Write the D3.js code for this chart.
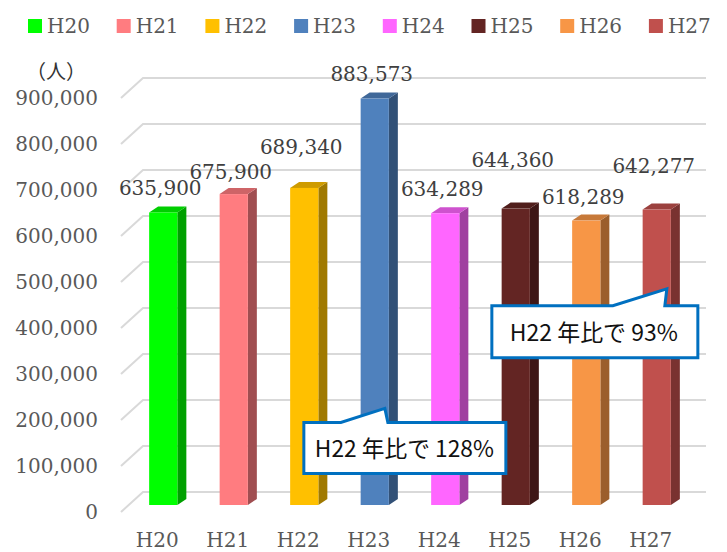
<!DOCTYPE html>
<html>
<head>
<meta charset="utf-8">
<script src="https://cdn.jsdelivr.net/npm/d3@7"></script>
<style>
  body { margin: 0; background: #fff; }
  svg { display: block; }
</style>
</head>
<body>
<svg id="chart" width="727" height="552"></svg>
<script>
const years = ["H20", "H21", "H22", "H23", "H24", "H25", "H26", "H27"];
const visitors = [635900, 675900, 689340, 883573, 634289, 644360, 618289, 642277];
const barColors = ["#00ff00", "#ff7c80", "#ffc000", "#4f81bd", "#ff66ff", "#632523", "#f79646", "#c0504d"];
const yTicks = [0, 100000, 200000, 300000, 400000, 500000, 600000, 700000, 800000, 900000];
const callouts = [
  { text: "H22 年比で 128%", year: "H23", value: 210000 },
  { text: "H22 年比で 93%", year: "H27", value: 470000 }
];
// how far each value label sits above its bar (labels were dragged by hand in the original)
const labelLift = [24, 22, 41, 25, 24, 49, 24, 44];

const svg = d3.select("#chart");
const serif = "'DejaVu Serif', 'Liberation Serif', serif";
const grey = "#595959";

// front plane of the 3D floor
const y = d3.scaleLinear().domain([0, 900000]).range([512, 98]);
const x = d3.scaleBand().domain(years).range([122, 686]).padding(0);

const wall = { dx: 22, dy: -20 };   // front -> back wall
const face = { dx: 6, dy: -7 };     // front -> bar front face
const depth = { dx: 9, dy: -6 };    // bar front -> bar back
const barW = x.bandwidth() * 0.4;

// gridlines: short diagonal on the left side wall, then across the back wall
const grid = svg.append("g");
yTicks.forEach(t => {
  const fy = y(t);
  grid.append("polyline")
      .attr("points", [[121, fy], [121 + wall.dx, fy + wall.dy], [706, fy + wall.dy]].join(" "))
      .attr("fill", "none")
      .attr("stroke", "#d9d9d9")
      .attr("stroke-width", 2);
});

svg.append("g")
   .selectAll("text")
   .data(yTicks)
   .enter()
   .append("text")
   .attr("x", 98)
   .attr("y", d => y(d))
   .attr("dy", "0.35em")
   .attr("text-anchor", "end")
   .attr("font-family", serif)
   .attr("font-size", 20)
   .attr("fill", grey)
   .text(d => d3.format(",")(d));

svg.append("text")
   .attr("x", 56)
   .attr("y", 72)
   .attr("dy", "0.35em")
   .attr("text-anchor", "middle")
   .attr("font-family", "'Noto Sans CJK JP', serif")
   .attr("font-size", 20)
   .attr("fill", "#333")
   .text("（人）");

// 3D columns
const bars = svg.append("g")
   .selectAll("g")
   .data(years.map((yr, i) => ({ yr, v: visitors[i], c: barColors[i], i })))
   .enter()
   .append("g");

bars.each(function(d) {
  const g = d3.select(this);
  const x0 = x(d.yr) + x.bandwidth() / 2 - barW / 2 + face.dx;
  const x1 = x0 + barW;
  const yt = y(d.v) + face.dy;
  const yb = y(0) + face.dy;
  const base = d3.color(d.c);
  g.append("polygon")
   .attr("points", [[x1, yt], [x1 + depth.dx, yt + depth.dy], [x1 + depth.dx, yb + depth.dy], [x1, yb]].join(" "))
   .attr("fill", base.darker(1.3));
  g.append("polygon")
   .attr("points", [[x0, yt], [x1, yt], [x1 + depth.dx, yt + depth.dy], [x0 + depth.dx, yt + depth.dy]].join(" "))
   .attr("fill", base.darker(0.6));
  g.append("rect")
   .attr("x", x0)
   .attr("y", yt)
   .attr("width", barW)
   .attr("height", yb - yt)
   .attr("fill", d.c);
  g.append("text")
   .attr("x", x0 + barW / 2 - 3)
   .attr("y", yt - labelLift[d.i])
   .attr("dy", "0.35em")
   .attr("text-anchor", "middle")
   .attr("font-family", serif)
   .attr("font-size", 20)
   .attr("fill", "#404040")
   .text(d3.format(",")(d.v));
});

// category labels
svg.append("g")
   .selectAll("text")
   .data(years)
   .enter()
   .append("text")
   .attr("x", d => x(d) + x.bandwidth() / 2)
   .attr("y", 540)
   .attr("dy", "0.35em")
   .attr("text-anchor", "middle")
   .attr("font-family", serif)
   .attr("font-size", 20)
   .attr("fill", grey)
   .text(d => d);

// legend
const legend = svg.append("g")
   .selectAll("g")
   .data(years)
   .enter()
   .append("g")
   .attr("transform", (d, i) => "translate(" + (28 + i * 88.7) + ",19)");
legend.append("rect")
   .attr("width", 14)
   .attr("height", 14)
   .attr("fill", (d, i) => barColors[i]);
legend.append("text")
   .attr("x", 19)
   .attr("y", 7)
   .attr("dy", "0.35em")
   .attr("font-family", serif)
   .attr("font-size", 20)
   .attr("fill", grey)
   .text(d => d);

// callouts
const boxes = [
  { w: 202, h: 51, baseL: -44, baseR: 3, gap: 14, padX: 11, textW: 179, shift: 81 },
  { w: 206, h: 52, baseL: -54, baseR: -2, gap: 17, padX: 18, textW: 168, shift: 175 }
];
callouts.forEach((c, k) => {
  const b = boxes[k];
  const tipX = x(c.year) + x.bandwidth() / 2 - barW / 2 + face.dx + barW - 4;
  const tipY = y(c.value) + face.dy;
  const top = tipY + b.gap;
  const left = tipX - b.shift;
  const right = left + b.w;
  const pts = [[left, top], [tipX + b.baseL, top], [tipX, tipY], [tipX + b.baseR, top],
               [right, top], [right, top + b.h], [left, top + b.h]];
  svg.append("polygon")
     .attr("points", pts.join(" "))
     .attr("fill", "#fff")
     .attr("stroke", "#0070c0")
     .attr("stroke-width", 3)
     .attr("stroke-linejoin", "miter");
  svg.append("text")
     .attr("x", left + b.padX)
     .attr("y", top + b.h / 2 + 1)
     .attr("dy", "0.35em")
     .attr("font-family", "'Noto Sans CJK JP', sans-serif")
     .attr("font-size", 23)
     .attr("textLength", b.textW)
     .attr("lengthAdjust", "spacingAndGlyphs")
     .attr("fill", "#111")
     .text(c.text);
});
</script>
</body>
</html>
